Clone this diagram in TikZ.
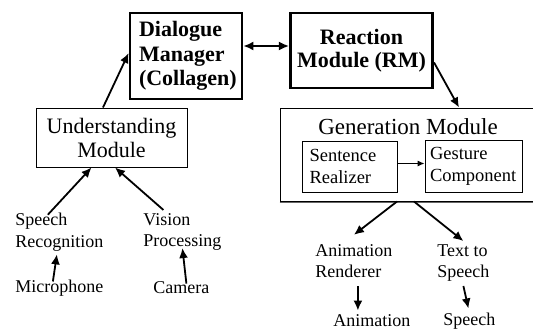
\documentclass[tikz,border=0pt]{standalone}
\usepackage{fontspec}
\setmainfont{Liberation Serif}
\usetikzlibrary{arrows.meta}

\begin{document}
\begin{tikzpicture}[
    x=0.5pt, y=-0.5pt,
    mainbox/.style={rectangle, draw=black, line width=1.4pt, align=left, font=\fontsize{11}{12.25}\selectfont\bfseries},
    modbox/.style={rectangle, draw=black, line width=0.5pt, align=center, font=\fontsize{11}{12}\selectfont},
    subbox/.style={rectangle, draw=black, line width=0.5pt, align=left, font=\fontsize{9.25}{11}\selectfont},
    lbl/.style={inner sep=0pt, anchor=west, align=left, font=\fontsize{9}{10.75}\selectfont},
    arr/.style={-{Latex[length=5pt,width=4.5pt]}, line width=0.9pt},
    thinarr/.style={-{Latex[length=3.5pt,width=3pt]}, line width=0.5pt}
]
\useasboundingbox (0,0) rectangle (533,332);
\clip (0,0) rectangle (533,332);

% top row
\node[mainbox, minimum width=56pt, minimum height=43pt, text width=47pt, inner xsep=4.5pt] (dm) at (186,56) {Dialogue\\Manager\\(Collagen)};
\node[mainbox, align=center, font=\fontsize{11}{11.5}\selectfont\bfseries, minimum width=69.5pt, minimum height=37.5pt] (rm) at (361.5,50.5) {Reaction\\Module (RM)};

% understanding side
\node[modbox, minimum width=75.5pt, minimum height=29.5pt] (um) at (111.5,137.5) {Understanding\\Module};
\node[lbl] (sr) at (15,232) {Speech\\Recognition};
\node[lbl] (vp) at (143,232) {Vision\\Processing};
\node[lbl] (mic) at (15,288) {Microphone};
\node[lbl] (cam) at (153,288) {Camera};

% generation side
\node[modbox, minimum width=128pt, minimum height=46.5pt] (gm) at (408,154.5) {};
\node[inner sep=0pt, font=\fontsize{11.5}{12}\selectfont] (gmtitle) at (408,127) {Generation Module};
\node[subbox, minimum width=47.5pt, minimum height=25.5pt, text width=40pt, inner xsep=3.75pt] (srz) at (349.5,166.5) {Sentence\\Realizer};
\node[subbox, minimum width=48.5pt, minimum height=26pt, text width=43.5pt, inner xsep=2.5pt] (gc) at (473.5,166) {Gesture\\Component};
\node[lbl] (ar) at (315,261) {Animation\\Renderer};
\node[lbl] (tts) at (437,263) {Text to\\Speech};
\node[lbl] (anim) at (333,321) {Animation};
\node[lbl] (sp) at (443,321) {Speech};

\draw[black!60, line width=0.9pt] ([yshift=-0.45pt]gm.south west) -- ([yshift=-0.45pt]gm.south east);

% connectors
\draw[arr] ([xshift=-4.25pt]um.north) -- ([yshift=1.5pt]dm.west);
\draw[arr, {Latex[length=5pt,width=4.5pt]}-{Latex[length=5pt,width=4.5pt]}] ([yshift=5pt]dm.east) -- ([yshift=5pt]dm.east -| rm.west);
\draw[arr] ([yshift=-6pt]rm.east) -- ([xshift=25.5pt]gm.north);
\draw[thinarr] ([yshift=1.5pt]srz.east) -- ([yshift=1.5pt]srz.east -| gc.west);
\draw[arr] ([xshift=-5.75pt,yshift=-1pt]sr.north) -- ([xshift=-10pt]um.south);
\draw[arr] ([xshift=-9.5pt,yshift=1.5pt]vp.north) -- ([xshift=1.75pt]um.south);
\draw[arr] ([xshift=-3.25pt,yshift=-1pt]mic.north) -- ([xshift=-1.25pt,yshift=-1.5pt]sr.south);
\draw[arr] ([xshift=2.5pt,yshift=-1pt]cam.north) -- ([yshift=1.5pt]vp.south);
\draw[arr] ([xshift=-5.5pt]gm.south) -- ([yshift=4.5pt]ar.north);
\draw[arr] ([xshift=3pt]gm.south) -- ([yshift=1.5pt]tts.north);
\draw[arr] ([xshift=2pt,yshift=-4pt]ar.south) -- ([xshift=-7pt,yshift=2pt]anim.north);
\draw[arr] ([yshift=-2pt]tts.south) -- ([xshift=-0.5pt,yshift=2pt]sp.north);
\end{tikzpicture}
\end{document}
